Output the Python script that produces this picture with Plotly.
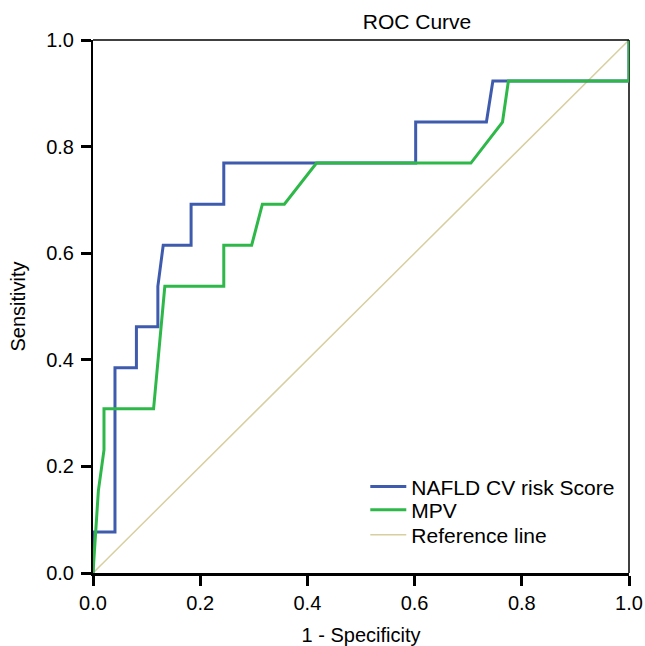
import plotly.graph_objects as go

# ROC curve data (1 - Specificity, Sensitivity)
nafld_fpr = [0, 0, 0.041, 0.041, 0.081, 0.081, 0.121, 0.121, 0.131, 0.183, 0.183,
             0.244, 0.244, 0.602, 0.602, 0.734, 0.746, 1.0, 1.0]
nafld_tpr = [0, 0.077, 0.077, 0.385, 0.385, 0.462, 0.462, 0.538, 0.615, 0.615, 0.692,
             0.692, 0.769, 0.769, 0.846, 0.846, 0.923, 0.923, 1.0]

mpv_fpr = [0, 0.010, 0.0205, 0.0205, 0.113, 0.134, 0.244, 0.244, 0.296, 0.316, 0.357,
           0.417, 0.705, 0.764, 0.775, 1.0, 1.0]
mpv_tpr = [0, 0.154, 0.231, 0.308, 0.308, 0.538, 0.538, 0.615, 0.615, 0.692, 0.692,
           0.769, 0.769, 0.846, 0.923, 0.923, 1.0]

ref_x = [0, 1]
ref_y = [0, 1]

tick_vals = [0.0, 0.2, 0.4, 0.6, 0.8, 1.0]
tick_text = ["0.0", "0.2", "0.4", "0.6", "0.8", "1.0"]

FONT = "Liberation Sans, Arial, Helvetica, sans-serif"

W, H = 645, 646

fig = go.Figure()
fig.add_trace(go.Scatter(x=ref_x, y=ref_y, mode="lines", name="Reference line",
                         line=dict(color="#D8CFA0", width=1.5), legend="legend3"))
fig.add_trace(go.Scatter(x=nafld_fpr, y=nafld_tpr, mode="lines", name="NAFLD CV risk Score",
                         line=dict(color="#3F5BAE", width=3), legend="legend"))
fig.add_trace(go.Scatter(x=mpv_fpr, y=mpv_tpr, mode="lines", name="MPV",
                         line=dict(color="#2FB84A", width=3), legend="legend2"))

LEG_X = 0.508


def leg(y):
    return dict(x=LEG_X, xanchor="left", y=y, yanchor="middle",
                bgcolor="rgba(0,0,0,0)", borderwidth=0, itemwidth=36,
                font=dict(size=21, family=FONT, color="black"))


fig.update_layout(
    width=W, height=H,
    margin=dict(l=93, r=16, t=40, b=73, autoexpand=False),
    paper_bgcolor="white", plot_bgcolor="white",
    font=dict(family=FONT, color="black", size=20),
    title=dict(text="ROC Curve", x=417/W, xanchor="center", xref="container",
               y=1-22/H, yanchor="middle", yref="container",
               font=dict(size=21, family=FONT, color="black")),
    legend=leg(0.1614),
    legend2=leg(0.1182),
    legend3=leg(0.0713),
    showlegend=True,
)
fig.update_xaxes(range=[0, 1], tickvals=tick_vals, ticktext=tick_text,
                 showgrid=False, zeroline=False, automargin=False,
                 showline=True, linewidth=3, linecolor="black",
                 ticks="outside", ticklen=10, tickwidth=2.5, tickcolor="black",
                 tickfont=dict(size=20),
                 title=dict(text="1 - Specificity", font=dict(size=20), standoff=18))
fig.update_yaxes(range=[0, 1], tickvals=tick_vals, ticktext=tick_text,
                 showgrid=False, zeroline=False, automargin=False,
                 showline=True, linewidth=2, linecolor="black",
                 ticks="outside", ticklen=10, tickwidth=2.5, tickcolor="black",
                 tickfont=dict(size=20), ticklabelstandoff=3,
                 title=dict(text="Sensitivity", font=dict(size=20), standoff=15))
# thin frame on top and right
fig.add_shape(type="line", xref="paper", yref="paper", x0=0, x1=1, y0=1, y1=1,
              line=dict(color="black", width=1.5))
fig.add_shape(type="line", xref="paper", yref="paper", x0=1, x1=1, y0=0, y1=1,
              line=dict(color="black", width=1.5), layer="below")

page_fix = ("document.documentElement.style.margin='0';"
            "document.documentElement.style.overflow='hidden';"
            "document.body.style.margin='0';"
            "document.body.style.overflow='hidden';")

fig.write_html("out.html", config={"displayModeBar": False}, post_script=page_fix)
